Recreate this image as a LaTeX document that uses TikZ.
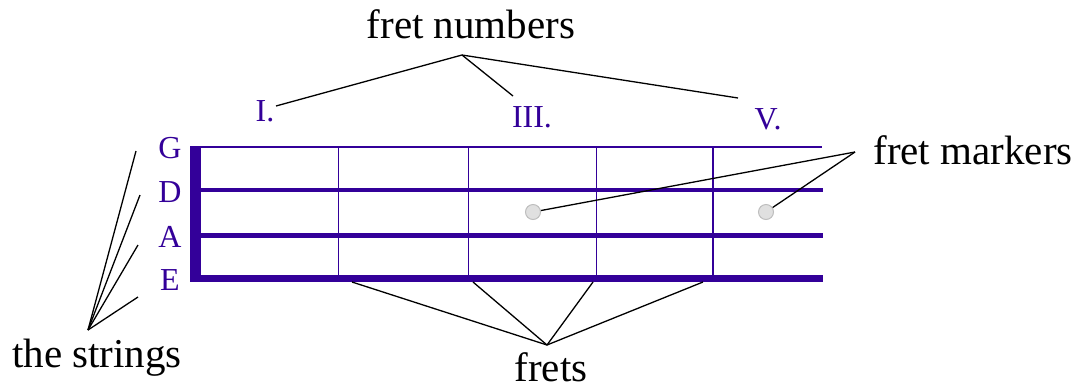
\documentclass[tikz,border=0pt]{standalone}
\usepackage{fontspec}
\setmainfont{Liberation Serif}
\definecolor{fb}{RGB}{51,0,153}
\definecolor{dotfill}{RGB}{224,224,224}
\definecolor{dotline}{RGB}{190,190,190}
\begin{document}
\begin{tikzpicture}[x=1pt,y=-1pt,
  lbl/.style={font=\fontsize{41}{41}\selectfont, text=black, inner sep=0pt, anchor=base},
  plbl/.style={font=\fontsize{32}{32}\selectfont, text=fb, inner sep=0pt, anchor=base},
  leader/.style={draw=black, line width=1.3pt},
  fretline/.style={draw=fb, line width=1.6pt},
  marker/.style={circle, fill=dotfill, draw=dotline, line width=1pt, minimum size=15pt, inner sep=0pt}]
\useasboundingbox (0,0) rectangle (1080,389);

% strings
\draw[fb, line width=2pt] (195,147) -- (822,147);
\draw[fb, line width=4pt] (195,190.3) -- (823,190.3);
\draw[fb, line width=5.5pt] (195,235.3) -- (823,235.3);
\draw[fb, line width=7pt] (195,278.7) -- (823,278.7);
% nut
\fill[fb] (190,146) rectangle (200.5,282.3);
% frets
\foreach \x in {338.3,468.3,596.3,712.7}
  \draw[fretline] (\x,147) -- (\x,279);

% markers
\node[marker] (m1) at (533,212) {};
\node[marker] (m2) at (766,212) {};

% string names
\node[plbl] (sG) at (170,158) {G};
\node[plbl] (sD) at (170,202) {D};
\node[plbl] (sA) at (170,247) {A};
\node[plbl] (sE) at (170,290) {E};

% fret numbers
\node[plbl] (n1) at (265,121) {I.};
\node[plbl] (n3) at (532,127) {III.};
\node[plbl] (n5) at (768,129) {V.};

% labels
\node[lbl] (lnum) at (471,38) {fret numbers};
\node[lbl] (lmark) at (973,164) {fret markers};
\node[lbl] (lstr) at (97,367) {the strings};
\node[lbl] (lfret) at (551,381) {frets};

% leader coordinates
\coordinate (aNum) at (462,55);
\coordinate (eN1) at (276,106);
\coordinate (eN3) at (513,96);
\coordinate (eN5) at (738,98);

\coordinate (aMark) at (855,152);

\coordinate (aFret) at (547,345);
\coordinate (eF1) at (352,282);
\coordinate (eF2) at (473,282);
\coordinate (eF3) at (593,282);
\coordinate (eF4) at (703,282);

\coordinate (aStr) at (88,330);
\coordinate (eS1) at (136,151);
\coordinate (eS2) at (140,195);
\coordinate (eS3) at (138,245);
\coordinate (eS4) at (138,297);

% leaders
\draw[leader] (aNum) -- (eN1);
\draw[leader] (aNum) -- (eN3);
\draw[leader] (aNum) -- (eN5);
\draw[leader] (aMark) -- (m1);
\draw[leader] (aMark) -- (m2);
\foreach \e in {eF1,eF2,eF3,eF4} \draw[leader] (aFret) -- (\e);
\foreach \e in {eS1,eS2,eS3,eS4} \draw[leader] (aStr) -- (\e);
\end{tikzpicture}
\end{document}
